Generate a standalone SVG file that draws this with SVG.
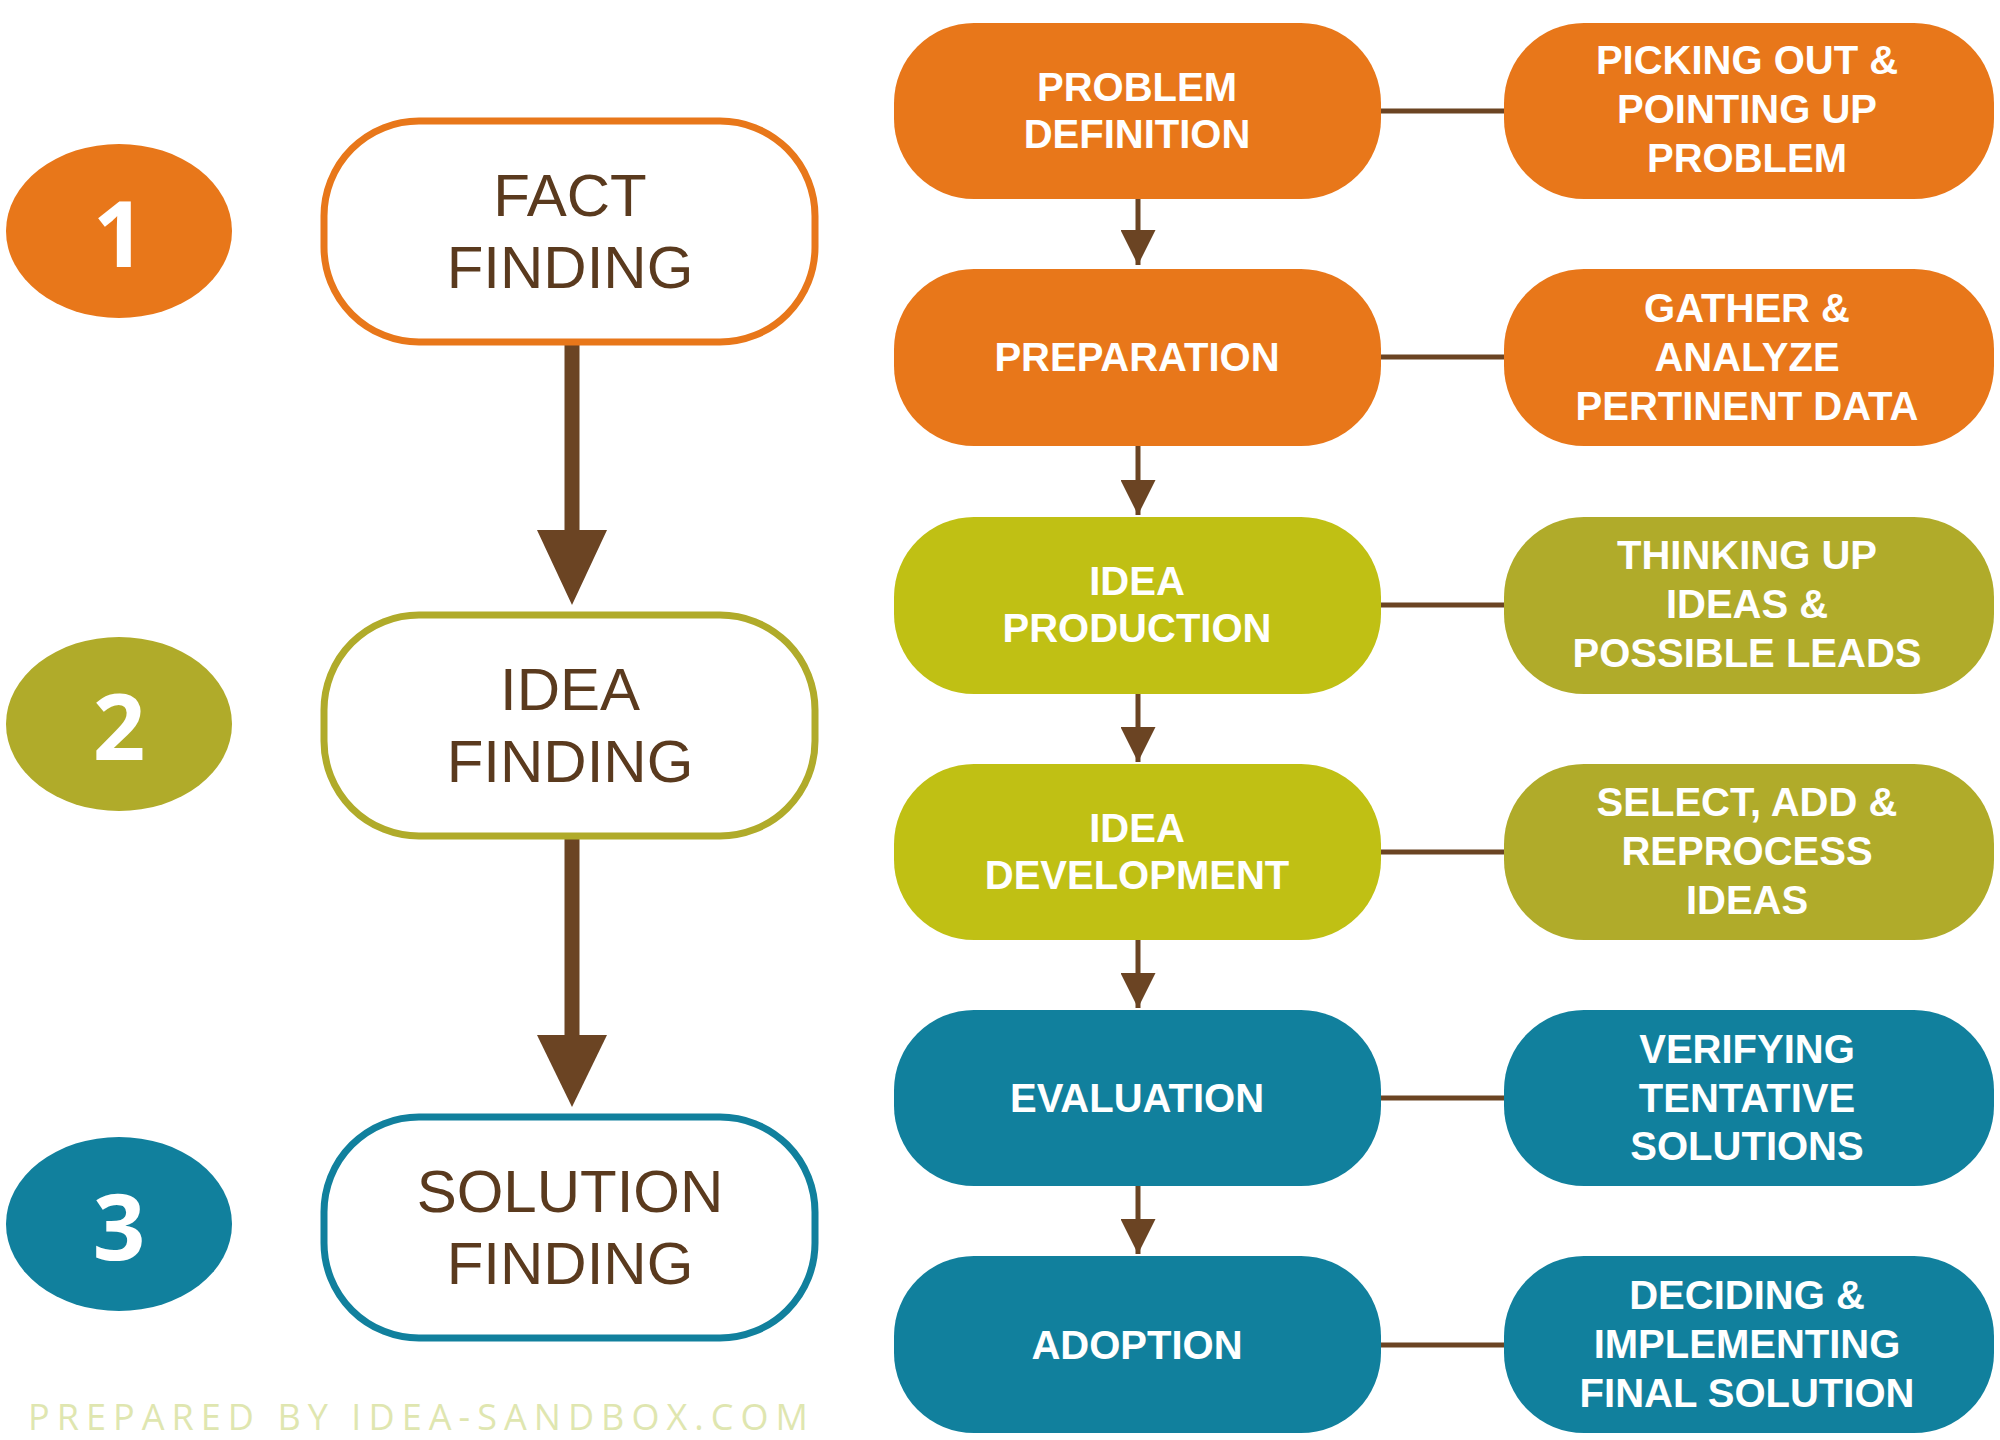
<svg xmlns="http://www.w3.org/2000/svg" width="2000" height="1440" viewBox="0 0 2000 1440">
<style>
.t{font-family:"Liberation Sans",Arial,sans-serif;font-weight:bold;fill:#fff;font-size:40px;text-anchor:middle;dominant-baseline:central}
.L{font-family:"Liberation Sans",Arial,sans-serif;fill:#5a3a1e;font-size:60px;text-anchor:middle;dominant-baseline:central}
.n{font-family:"Open Sans","Liberation Sans",sans-serif;font-weight:bold;fill:#fff;font-size:92px;text-anchor:middle;dominant-baseline:central}
.o{fill:#e8771a}.g{fill:#c0c014}.g2{fill:#b0ab2a}.b{fill:#11809d}
.c{stroke:#6b4423;stroke-width:5;fill:none}
</style>
<defs>
<marker id="sa" viewBox="0 0 10 10" refX="10" refY="5" markerWidth="9" markerHeight="7" markerUnits="strokeWidth" orient="auto"><path d="M0,0L10,5L0,10z" fill="#6b4423"/></marker>
</defs>
<rect width="2000" height="1440" fill="#fff"/>
<g id="connectors">
<line class="c" x1="1381" y1="111" x2="1504" y2="111"/>
<line class="c" x1="1381" y1="357" x2="1504" y2="357"/>
<line class="c" x1="1381" y1="605" x2="1504" y2="605"/>
<line class="c" x1="1381" y1="852" x2="1504" y2="852"/>
<line class="c" x1="1381" y1="1098" x2="1504" y2="1098"/>
<line class="c" x1="1381" y1="1345" x2="1504" y2="1345"/>
<line class="c" x1="1138" y1="199" x2="1138" y2="265" marker-end="url(#sa)"/>
<line class="c" x1="1138" y1="446" x2="1138" y2="515" marker-end="url(#sa)"/>
<line class="c" x1="1138" y1="694" x2="1138" y2="762" marker-end="url(#sa)"/>
<line class="c" x1="1138" y1="940" x2="1138" y2="1008" marker-end="url(#sa)"/>
<line class="c" x1="1138" y1="1186" x2="1138" y2="1254" marker-end="url(#sa)"/>
<line stroke="#6b4423" stroke-width="15" x1="572" y1="344" x2="572" y2="540"/>
<polygon points="537,530 607,530 572,605" fill="#6b4423"/>
<line stroke="#6b4423" stroke-width="15" x1="572" y1="838" x2="572" y2="1045"/>
<polygon points="537,1035 607,1035 572,1107" fill="#6b4423"/>
</g>
<g id="n1"><ellipse cx="119" cy="231" rx="113" ry="87" class="o"/><text class="n" x="119" y="231">1</text></g>
<g id="n2"><ellipse cx="119" cy="724" rx="113" ry="87" class="g2"/><text class="n" x="119" y="724">2</text></g>
<g id="n3"><ellipse cx="119" cy="1224" rx="113" ry="87" class="b"/><text class="n" x="119" y="1224">3</text></g>
<g id="fact"><rect x="324" y="121" width="491" height="221" rx="95" fill="#fff" stroke="#e8771a" stroke-width="7"/><text class="L" x="570" y="195">FACT</text><text class="L" x="570" y="267">FINDING</text></g>
<g id="idea"><rect x="324" y="615" width="491" height="221" rx="95" fill="#fff" stroke="#b0ab2a" stroke-width="7"/><text class="L" x="570" y="689">IDEA</text><text class="L" x="570" y="761">FINDING</text></g>
<g id="solution"><rect x="324" y="1117" width="491" height="221" rx="95" fill="#fff" stroke="#11809d" stroke-width="7"/><text class="L" x="570" y="1191">SOLUTION</text><text class="L" x="570" y="1263">FINDING</text></g>
<g id="m1"><rect x="894" y="23" width="487" height="176" rx="80" class="o"/><text class="t" x="1137" y="87">PROBLEM</text><text class="t" x="1137" y="134">DEFINITION</text></g>
<g id="m2"><rect x="894" y="269" width="487" height="177" rx="80" class="o"/><text class="t" x="1137" y="357">PREPARATION</text></g>
<g id="m3"><rect x="894" y="517" width="487" height="177" rx="80" class="g"/><text class="t" x="1137" y="581">IDEA</text><text class="t" x="1137" y="628">PRODUCTION</text></g>
<g id="m4"><rect x="894" y="764" width="487" height="176" rx="80" class="g"/><text class="t" x="1137" y="828">IDEA</text><text class="t" x="1137" y="875">DEVELOPMENT</text></g>
<g id="m5"><rect x="894" y="1010" width="487" height="176" rx="80" class="b"/><text class="t" x="1137" y="1098">EVALUATION</text></g>
<g id="m6"><rect x="894" y="1256" width="487" height="177" rx="80" class="b"/><text class="t" x="1137" y="1345">ADOPTION</text></g>
<g id="r1"><rect x="1504" y="23" width="490" height="176" rx="80" class="o"/><text class="t" x="1747" y="60">PICKING OUT &amp;</text><text class="t" x="1747" y="109">POINTING UP</text><text class="t" x="1747" y="158">PROBLEM</text></g>
<g id="r2"><rect x="1504" y="269" width="490" height="177" rx="80" class="o"/><text class="t" x="1747" y="308">GATHER &amp;</text><text class="t" x="1747" y="357">ANALYZE</text><text class="t" x="1747" y="406">PERTINENT DATA</text></g>
<g id="r3"><rect x="1504" y="517" width="490" height="177" rx="80" class="g2"/><text class="t" x="1747" y="555">THINKING UP</text><text class="t" x="1747" y="604">IDEAS &amp;</text><text class="t" x="1747" y="653">POSSIBLE LEADS</text></g>
<g id="r4"><rect x="1504" y="764" width="490" height="176" rx="80" class="g2"/><text class="t" x="1747" y="802">SELECT, ADD &amp;</text><text class="t" x="1747" y="851">REPROCESS</text><text class="t" x="1747" y="900">IDEAS</text></g>
<g id="r5"><rect x="1504" y="1010" width="490" height="176" rx="80" class="b"/><text class="t" x="1747" y="1049">VERIFYING</text><text class="t" x="1747" y="1098">TENTATIVE</text><text class="t" x="1747" y="1146">SOLUTIONS</text></g>
<g id="r6"><rect x="1504" y="1256" width="490" height="177" rx="80" class="b"/><text class="t" x="1747" y="1295">DECIDING &amp;</text><text class="t" x="1747" y="1344">IMPLEMENTING</text><text class="t" x="1747" y="1393">FINAL SOLUTION</text></g>
<text x="28" y="1416" font-family="Open Sans,Liberation Sans,sans-serif" font-size="36" fill="#dfe6b0" dominant-baseline="central" textLength="780">PREPARED BY IDEA-SANDBOX.COM</text>
</svg>
